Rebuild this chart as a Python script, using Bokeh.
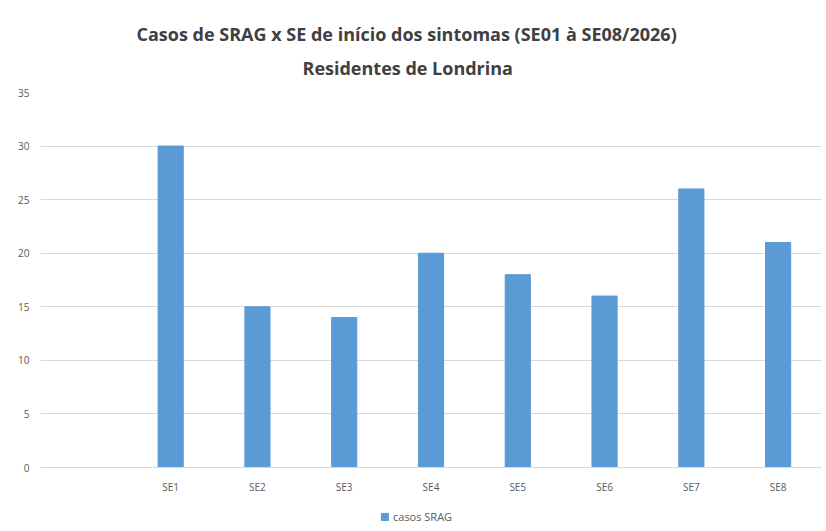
from bokeh.plotting import figure
from bokeh.models import FactorRange, Title, Legend, LegendItem, ColumnDataSource, FixedTicker
from bokeh.embed import file_html
from bokeh.resources import INLINE

categories = ["SE1", "SE2", "SE3", "SE4", "SE5", "SE6", "SE7", "SE8"]
casos_srag = [30, 15, 14, 20, 18, 16, 26, 21]
y_ticks = [0, 5, 10, 15, 20, 25, 30, 35]
title_main = "Casos de SRAG x SE de início dos sintomas (SE01 à SE08/2026)"
title_sub = "Residentes de Londrina"
series_name = "casos SRAG"

FONT = "Open Sans"
GRAY = "#595959"

# frame extends below zero so the legend can sit inside it, under the axis
p = figure(
    x_range=FactorRange(factors=[" "] + categories),
    y_range=(-5.32, 35),
    frame_width=781, frame_height=432,
    min_border_left=40, min_border_right=2, min_border_top=92, min_border_bottom=10,
    output_backend="svg", toolbar_location=None,
    background_fill_color="white", border_fill_color="white",
)
p.title = None
p.add_layout(Title(text=title_sub, align="left", text_font=FONT, text_font_size="18px",
                   text_font_style="bold", text_color="#404040", standoff=26, offset=262), "above")
p.add_layout(Title(text=title_main, align="left", text_font=FONT, text_font_size="18px",
                   text_font_style="bold", text_color="#404040", standoff=-10, offset=96), "above")

src = ColumnDataSource(dict(x=categories, y=casos_srag))
r = p.vbar(x="x", top="y", bottom=0, width=0.29, source=src,
           fill_color="#5B9BD5", line_color="#5B9BD5")

p.outline_line_color = None
p.xgrid.grid_line_color = None
p.ygrid.grid_line_color = "#d9d9d9"
p.ygrid.ticker = FixedTicker(ticks=y_ticks)
p.yaxis.ticker = FixedTicker(ticks=y_ticks)

for ax in (p.xaxis, p.yaxis):
    ax.major_tick_line_color = None
    ax.minor_tick_line_color = None
    ax.major_tick_out = 0
    ax.major_tick_in = 0
    ax.major_label_text_font = FONT
    ax.major_label_text_font_size = "10px"
    ax.major_label_text_color = GRAY
p.yaxis.axis_line_color = None
p.yaxis.major_label_standoff = 11
p.xaxis.axis_line_color = "#d9d9d9"
p.xaxis.major_label_standoff = 12
p.xaxis.fixed_location = 0

legend = Legend(items=[LegendItem(label=series_name, renderers=[r])],
                orientation="horizontal", location=(340, 0),
                label_text_font=FONT, label_text_font_size="11px", label_text_color=GRAY,
                glyph_width=9, glyph_height=9, label_height=12, border_line_color=None,
                background_fill_alpha=0,
                padding=2, margin=0, label_standoff=4)
p.add_layout(legend)

open("out.html", "w").write(file_html(p, INLINE))
